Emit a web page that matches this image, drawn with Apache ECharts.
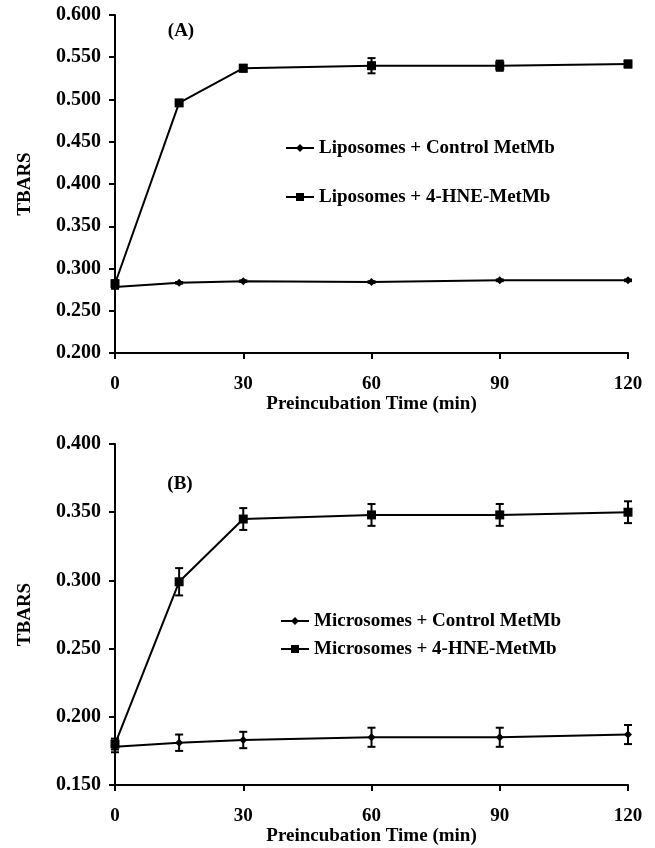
<!DOCTYPE html>
<html><head><meta charset="utf-8">
<script src="https://cdn.jsdelivr.net/npm/echarts@6/dist/echarts.min.js"></script>
<style>html,body{margin:0;padding:0;background:#fff}#c{width:655px;height:848px}</style>
</head><body><div id="c"></div>
<script>
// ---- data ----
const times = [0, 15, 30, 60, 90, 120];
const xTicks = [0, 30, 60, 90, 120];
const yTicksA = [0.200, 0.250, 0.300, 0.350, 0.400, 0.450, 0.500, 0.550, 0.600];
const yTicksB = [0.150, 0.200, 0.250, 0.300, 0.350, 0.400];
const nameLipoControl = 'Liposomes + Control MetMb';
const nameLipoHNE = 'Liposomes + 4-HNE-MetMb';
const nameMicroControl = 'Microsomes + Control MetMb';
const nameMicroHNE = 'Microsomes + 4-HNE-MetMb';
const lipoControl = [0.278, 0.283, 0.285, 0.284, 0.286, 0.286];
const lipoControlErr = [0.002, 0.001, 0.001, 0.001, 0.001, 0.001];
const lipoHNE = [0.282, 0.496, 0.537, 0.540, 0.540, 0.542];
const lipoHNEErr = [0.004, 0.003, 0.004, 0.009, 0.006, 0.004];
const microControl = [0.178, 0.181, 0.183, 0.185, 0.185, 0.187];
const microControlErr = [0.004, 0.006, 0.006, 0.007, 0.007, 0.007];
const microHNE = [0.180, 0.299, 0.345, 0.348, 0.348, 0.350];
const microHNEErr = [0.004, 0.010, 0.008, 0.008, 0.008, 0.008];

// ---- helpers ----
const FONT = 'Liberation Serif';
const pts = (ys) => times.map((t, i) => [t, ys[i]]);
const errs = (ys, es) => times.map((t, i) => [t, ys[i] - es[i], ys[i] + es[i]]);
const step = (a) => +(a[1] - a[0]).toFixed(4);

function errRender(params, api) {
  const x = api.value(0), lo = api.value(1), hi = api.value(2);
  const p1 = api.coord([x, lo]), p2 = api.coord([x, hi]);
  const w = 4;
  const style = { stroke: '#000', lineWidth: 2 };
  return { type: 'group', children: [
    { type: 'line', shape: { x1: p1[0], y1: p1[1], x2: p2[0], y2: p2[1] }, style },
    { type: 'line', shape: { x1: p1[0] - w, y1: p1[1], x2: p1[0] + w, y2: p1[1] }, style },
    { type: 'line', shape: { x1: p2[0] - w, y1: p2[1], x2: p2[0] + w, y2: p2[1] }, style }
  ]};
}

const axisCommon = {
  axisLine: { lineStyle: { color: '#000', width: 2 } },
  axisTick: { show: true, inside: false, length: 6, lineStyle: { color: '#000', width: 2 } },
  splitLine: { show: false },
  axisLabel: { color: '#000', fontFamily: FONT, fontWeight: 'bold', fontSize: 19 },
  nameTextStyle: { color: '#000', fontFamily: FONT, fontWeight: 'bold', fontSize: 19 }
};

function xAxis(gridIndex) {
  return Object.assign({}, axisCommon, {
    type: 'value', gridIndex, min: xTicks[0], max: xTicks[xTicks.length - 1], interval: step(xTicks),
    name: 'Preincubation Time (min)', nameLocation: 'middle', nameGap: 42,
    axisLabel: Object.assign({}, axisCommon.axisLabel, { margin: 22 })
  });
}
function yAxis(gridIndex, ticks) {
  return Object.assign({}, axisCommon, {
    type: 'value', gridIndex, min: ticks[0], max: ticks[ticks.length - 1], interval: step(ticks),
    name: 'TBARS', nameLocation: 'middle', nameGap: 80,
    axisLabel: Object.assign({}, axisCommon.axisLabel, { margin: 14, fontSize: 20, formatter: (v) => v.toFixed(3) })
  });
}

function lineSeries(name, idx, ys, symbol) {
  return {
    type: 'line', name, xAxisIndex: idx, yAxisIndex: idx, data: pts(ys),
    symbol, symbolSize: symbol === 'rect' ? 9 : [8, 8],
    itemStyle: { color: '#000' }, lineStyle: { color: '#000', width: 2 },
    z: 3, animation: false
  };
}
function errSeries(idx, ys, es) {
  return {
    type: 'custom', xAxisIndex: idx, yAxisIndex: idx, data: errs(ys, es),
    encode: { x: 0, y: [1, 2] }, renderItem: errRender, z: 2, animation: false, clip: false
  };
}
function legend(name, left, centerY) {
  return {
    data: [name], left, top: centerY - 10, padding: 0, itemWidth: 28, itemHeight: 10, itemGap: 6,
    textStyle: { color: '#000', fontFamily: FONT, fontWeight: 'bold', fontSize: 19, lineHeight: 20 },
    selectedMode: false
  };
}

const chart = echarts.init(document.getElementById('c'));
chart.setOption({
  backgroundColor: '#fff',
  animation: false,
  grid: [
    { left: 115, top: 15, width: 513, height: 338 },
    { left: 115, top: 444, width: 513, height: 341 }
  ],
  xAxis: [xAxis(0), xAxis(1)],
  yAxis: [yAxis(0, yTicksA), yAxis(1, yTicksB)],
  legend: [
    legend(nameLipoControl, 285, 148),
    legend(nameLipoHNE, 285, 197),
    legend(nameMicroControl, 280, 621),
    legend(nameMicroHNE, 280, 649)
  ],
  graphic: [
    { type: 'text', x: 181, y: 31, style: { text: '(A)', align: 'center', verticalAlign: 'middle', font: 'bold 19px "Liberation Serif"', fill: '#000' } },
    { type: 'text', x: 180, y: 484, style: { text: '(B)', align: 'center', verticalAlign: 'middle', font: 'bold 19px "Liberation Serif"', fill: '#000' } }
  ],
  series: [
    errSeries(0, lipoControl, lipoControlErr),
    errSeries(0, lipoHNE, lipoHNEErr),
    lineSeries(nameLipoControl, 0, lipoControl, 'diamond'),
    lineSeries(nameLipoHNE, 0, lipoHNE, 'rect'),
    errSeries(1, microControl, microControlErr),
    errSeries(1, microHNE, microHNEErr),
    lineSeries(nameMicroControl, 1, microControl, 'diamond'),
    lineSeries(nameMicroHNE, 1, microHNE, 'rect')
  ]
});
</script></body></html>
